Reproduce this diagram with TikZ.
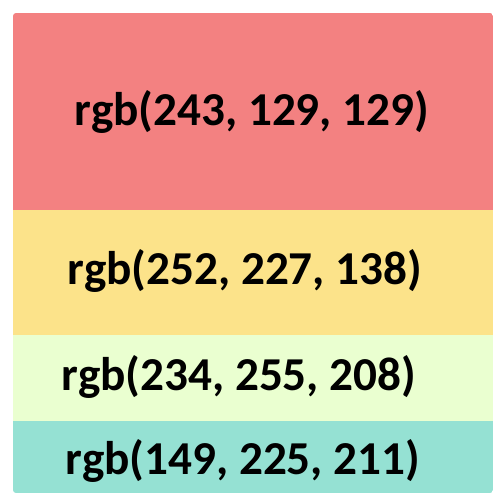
\documentclass[tikz,border=0pt]{standalone}
\usepackage{fontspec}
\setmainfont{Carlito}
\usetikzlibrary{positioning}
\definecolor{bandred}{RGB}{243,129,129}
\definecolor{bandyellow}{RGB}{252,227,138}
\definecolor{bandgreen}{RGB}{234,255,208}
\definecolor{bandteal}{RGB}{149,225,211}
\tikzset{
    bandlabel/.style={font=\bfseries\fontsize{47.2}{50}\selectfont, text=black, inner sep=0pt}
}

\begin{document}
\begin{tikzpicture}[x=1pt, y=-1pt]
    \useasboundingbox (0,0) rectangle (504,503);
    \begin{scope}
        \clip[rounded corners=3pt] (13,13) rectangle (493,493);
        \fill[bandred] (13,13) rectangle (493,210);
        \fill[bandyellow] (13,210) rectangle (493,335);
        \fill[bandgreen] (13,335) rectangle (493,421);
        \fill[bandteal] (13,421) rectangle (493,493);
    \end{scope}
    \node[bandlabel] (red) at (252,112) {rgb(243, 129, 129)};
    \node[bandlabel] (yellow) at (245,271) {rgb(252, 227, 138)};
    \node[bandlabel] (green) at (239,377) {rgb(234, 255, 208)};
    \node[bandlabel] (teal) at (243,461) {rgb(149, 225, 211)};
\end{tikzpicture}
\end{document}
